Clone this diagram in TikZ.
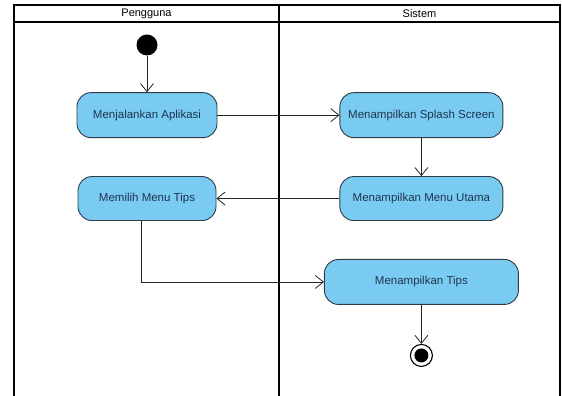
\documentclass[tikz,border=0pt]{standalone}
\usepackage{fontspec}
\setmainfont{Liberation Sans}
\usepackage{xcolor}
\usetikzlibrary{positioning,arrows.meta}

\definecolor{actfill}{HTML}{7ACBF2}
\definecolor{actline}{HTML}{2D3B48}
\definecolor{acttext}{HTML}{1E3550}

\begin{document}
\begin{tikzpicture}[x=1pt,y=1pt,
  act/.style={draw=actline, fill=actfill, line width=0.9pt, rounded corners=14pt,
    text=acttext, font=\fontsize{11.5}{13}\selectfont, inner sep=2pt,
    minimum height=45pt},
  flow/.style={draw=black!85, line width=0.8pt, -{Straight Barb[length=8pt,width=13pt]}},
  lane/.style={line width=2pt}]
  \useasboundingbox (0,0) rectangle (562,396);

  % swimlanes
  \draw[lane] (14,0) -- (14,391) -- (560,391) -- (560,0);
  \draw[lane] (14,374) -- (560,374);
  \draw[lane] (279,391) -- (279,0);
  \node[font=\fontsize{11}{13}\selectfont] (user) at (146.5,382.5) {Pengguna};
  \node[font=\fontsize{11}{13}\selectfont] (sys)  at (419.5,382.5) {Sistem};

  % activities
  \node[circle, fill=black, minimum size=21pt, inner sep=0pt] (start) at (147,351) {};
  \node[act, node distance=36.5pt, below=of start, minimum width=140pt] (run)    {Menjalankan Aplikasi};
  \node[act, node distance=122pt, right=of run, minimum width=163pt]    (splash) {Menampilkan Splash Screen};
  \node[act, node distance=38pt, below=of splash, minimum width=163pt, minimum height=44pt] (menu) {Menampilkan Menu Utama};
  \node[act, node distance=123pt, left=of menu, minimum width=138pt, minimum height=44pt]   (pick) {Memilih Menu Tips};
  \node[act, node distance=38pt, below=of menu, minimum width=194pt]    (tips)   {Menampilkan Tips};
  \node[circle, draw=black, fill=white, line width=1.1pt, minimum size=22pt, inner sep=0pt,
    node distance=39pt, below=of tips,
    path picture={\fill[black] (path picture bounding box.center) circle (7pt);}] (stop) {};

  \path[flow]
  (start)  edge (run)
  (run)    edge (splash)
  (splash) edge (menu)
  (menu)   edge (pick)
  (tips)   edge (stop);
  \draw[flow] ([xshift=-6pt]pick.south) |- (tips.west);
\end{tikzpicture}
\end{document}
